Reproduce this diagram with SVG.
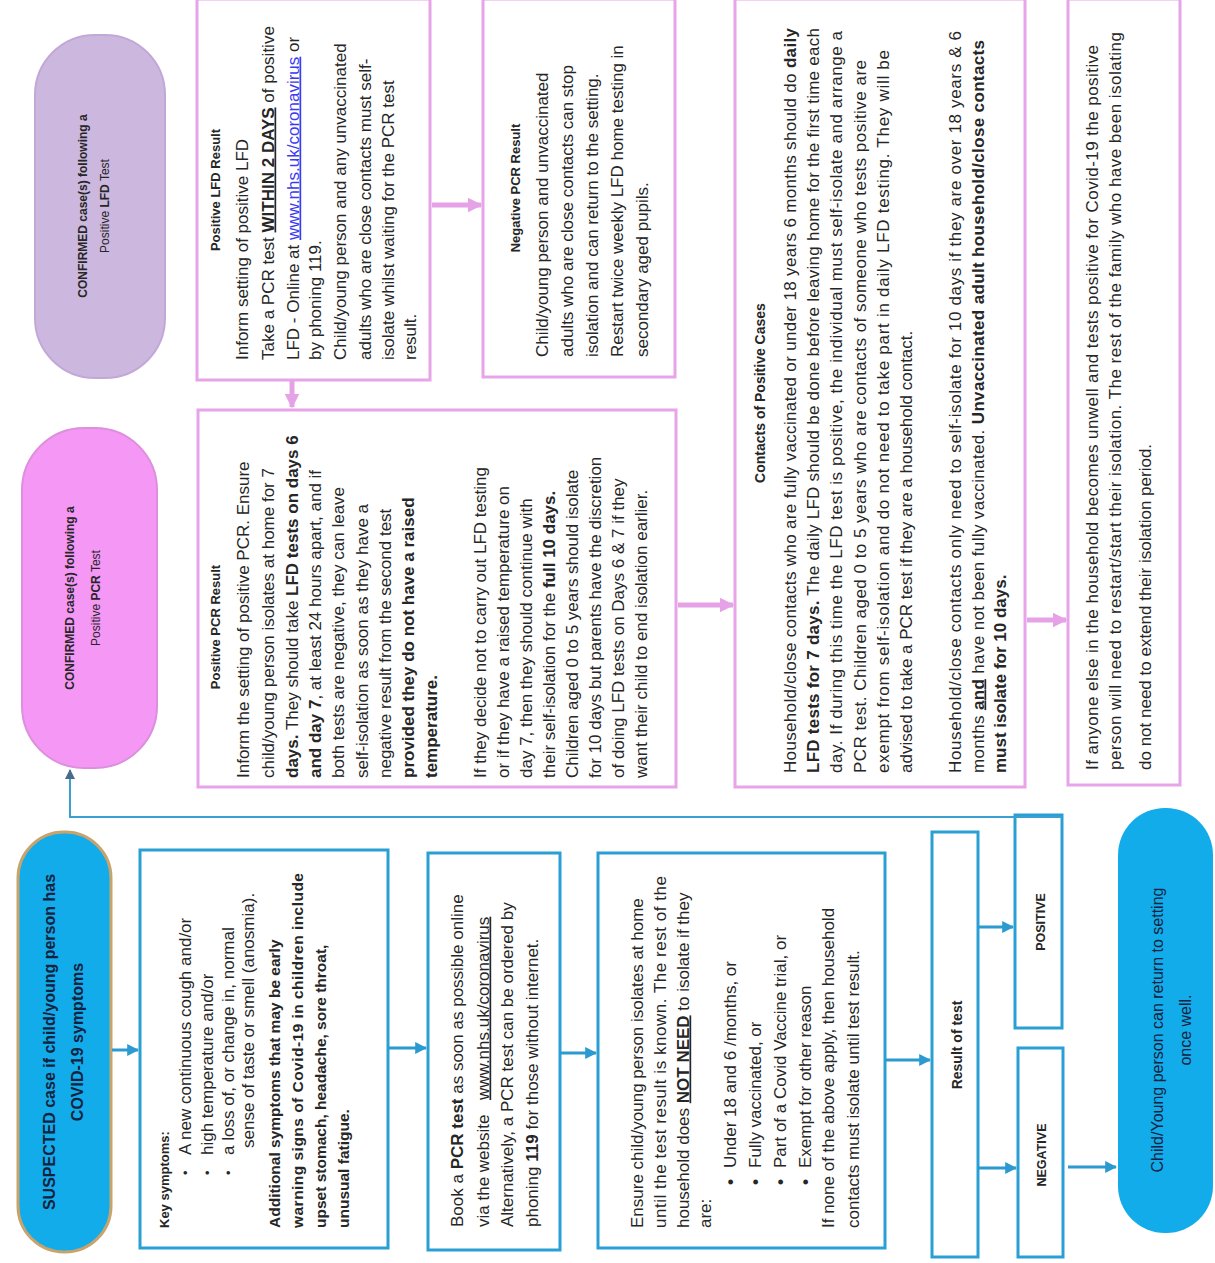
<svg xmlns="http://www.w3.org/2000/svg" width="1215" height="1263" viewBox="0 0 1215 1263">
<defs>
<marker id="ab" viewBox="0 0 10 10" refX="9" refY="5" markerWidth="4" markerHeight="4" orient="auto"><path d="M0,0 L10,5 L0,10 z" fill="#2b9ad0"/></marker>
<marker id="ag" viewBox="0 0 10 10" refX="9" refY="5" markerWidth="5" markerHeight="5" orient="auto"><path d="M0,0 L10,5 L0,10 z" fill="#4a6a8a"/></marker>
<marker id="ap" viewBox="0 0 10 10" refX="9" refY="5" markerWidth="3" markerHeight="3" orient="auto"><path d="M0,0 L10,5 L0,10 z" fill="#e6a2e6"/></marker>
</defs>
<style>
text{font-family:"Liberation Sans",Arial,sans-serif;fill:#262626}
.x{font-size:17px}
.bd{font-weight:bold}
.tt{font-size:13px;font-weight:bold}
.c{text-anchor:middle}
.u{text-decoration:underline}
.bbox{fill:#fff;stroke:#2a9fd6;stroke-width:3}
.pbox{fill:#fff;stroke:#e8a4e8;stroke-width:3}
.bc{stroke:#2b9ad0;stroke-width:3;fill:none}
.pc{stroke:#e6a2e6;stroke-width:5;fill:none}
.bul{font-size:13px}
.kb{font-size:15.5px;font-weight:bold}
</style>
<rect width="1215" height="1263" fill="#fff"/>
<g transform="translate(0,1263) rotate(-90)">

<g id="suspected">
<rect x="11" y="18" width="420" height="93" rx="46" fill="#12acea" stroke="#c8a46c" stroke-width="3"/>
<text class="c bd" style="font-size:16px;fill:#13233f" x="221" y="55">SUSPECTED case if child/young person has</text>
<text class="c bd" style="font-size:16px;fill:#13233f" x="221" y="83">COVID-19 symptoms</text>
</g>

<g id="key-symptoms">
<rect class="bbox" x="15" y="140" width="398" height="248"/>
<text class="tt" x="35" y="169">Key symptoms:</text>
<text class="bul" x="88" y="190">•</text>
<text class="bul" x="88" y="212">•</text>
<text class="bul" x="88" y="233">•</text>
<text class="x" x="108" y="190.5">A new continuous cough and/or</text>
<text class="x" x="108" y="212.5">high temperature and/or</text>
<text class="x" x="108" y="233.5">a loss of, or change in, normal</text>
<text class="x" x="115" y="254">sense of taste or smell (anosmia).</text>
<text class="kb" x="35" y="280">Additional symptoms that may be early</text>
<text class="kb" x="35" y="303" textLength="355">warning signs of Covid-19 in children include</text>
<text class="kb" x="35" y="326">upset stomach, headache, sore throat,</text>
<text class="kb" x="35" y="349">unusual fatigue.</text>
</g>

<g id="book-pcr">
<rect class="bbox" x="13" y="428" width="397" height="132"/>
<text class="x" x="36" y="462.5">Book a <tspan class="bd">PCR test</tspan> as soon as possible online</text>
<text class="x" x="36" y="488.5">via the website</text>
<text class="x u" x="163" y="488.5">www.nhs.uk/coronavirus</text>
<text class="x" x="36" y="512.5">Alternatively, a PCR test can be ordered by</text>
<text class="x" x="36" y="537.5">phoning <tspan class="bd">119</tspan> for those without internet.</text>
</g>

<g id="isolate">
<rect class="bbox" x="15" y="598" width="395" height="287"/>
<text class="x" x="35" y="642.5">Ensure child/young person isolates at home</text>
<text class="x" x="35" y="665.5" textLength="352">until the test result is known. The rest of the</text>
<text class="x" x="35" y="688.5">household does <tspan class="bd u">NOT NEED</tspan> to isolate if they</text>
<text class="x" x="35" y="710.5">are:</text>
<text class="x bd" x="78" y="735.5">•</text>
<text class="x bd" x="78" y="760.5">•</text>
<text class="x bd" x="78" y="785.5">•</text>
<text class="x bd" x="78" y="810.5">•</text>
<text class="x" x="95" y="735.5">Under 18 and 6 /months, or</text>
<text class="x" x="95" y="760.5">Fully vaccinated, or</text>
<text class="x" x="95" y="785.5">Part of a Covid Vaccine trial, or</text>
<text class="x" x="95" y="810.5">Exempt for other reason</text>
<text class="x" x="35" y="833.5">If none of the above apply, then household</text>
<text class="x" x="35" y="858.5">contacts must isolate until test result.</text>
</g>

<g id="result">
<rect class="bbox" x="6" y="932" width="425" height="46"/>
<text class="c bd" style="font-size:14px" x="218" y="962">Result of test</text>
</g>

<g id="positive">
<rect class="bbox" x="235" y="1015" width="213" height="47"/>
<text class="c bd" style="font-size:12.5px" x="341" y="1044.5">POSITIVE</text>
</g>

<g id="negative">
<rect class="bbox" x="6" y="1018" width="209" height="45"/>
<text class="c bd" style="font-size:12.5px" x="108" y="1046">NEGATIVE</text>
</g>

<g id="return">
<rect x="30" y="1118" width="425" height="95" rx="47" fill="#12acea"/>
<text class="c" style="font-size:16px;fill:#13233f" x="233" y="1162.5">Child/Young person can return to setting</text>
<text class="c" style="font-size:16px;fill:#13233f" x="233" y="1190.5">once well.</text>
</g>

<g id="confirmed-pcr">
<rect x="495" y="22" width="340" height="135" rx="62" fill="#f597f5" stroke="#dc8fdc" stroke-width="2"/>
<text class="c bd" style="font-size:12px" x="665" y="73.5">CONFIRMED case(s) following a</text>
<text class="c" style="font-size:12px" x="665" y="99.5">Positive <tspan class="bd">PCR</tspan> Test</text>
</g>

<g id="confirmed-lfd">
<rect x="885" y="35" width="343" height="130" rx="60" fill="#ccb8de" stroke="#c2a8d8" stroke-width="2"/>
<text class="c bd" style="font-size:12px" x="1057" y="86.5">CONFIRMED case(s) following a</text>
<text class="c" style="font-size:12px" x="1057" y="108.5">Positive <tspan class="bd">LFD</tspan> Test</text>
</g>

<g id="positive-lfd">
<rect class="pbox" x="883" y="197" width="381" height="233"/>
<text class="tt c" x="1073" y="219.5">Positive LFD Result</text>
<text class="x" x="903" y="247.5">Inform setting of positive LFD</text>
<text class="x" x="903" y="273.5">Take a PCR test <tspan class="bd u">WITHIN 2 DAYS</tspan> of positive</text>
<text class="x" x="903" y="298.5">LFD - Online at <tspan class="u" style="fill:#3a3af0">www.nhs.uk/coronavirus</tspan> or</text>
<text class="x" x="903" y="320.5">by phoning 119.</text>
<text class="x" x="903" y="345.5">Child/young person and any unvaccinated</text>
<text class="x" x="903" y="370.5">adults who are close contacts must self-</text>
<text class="x" x="903" y="393.5">isolate whilst waiting for the PCR test</text>
<text class="x" x="903" y="415.5">result.</text>
</g>

<g id="negative-pcr">
<rect class="pbox" x="886" y="483" width="378" height="192"/>
<text class="tt c" x="1075" y="519.5">Negative PCR Result</text>
<text class="x" x="906" y="547.5">Child/young person and unvaccinated</text>
<text class="x" x="906" y="572.5">adults who are close contacts can stop</text>
<text class="x" x="906" y="597.5">isolation and can return to the setting.</text>
<text class="x" x="906" y="622.5">Restart twice weekly LFD home testing in</text>
<text class="x" x="906" y="647.5">secondary aged pupils.</text>
</g>

<g id="positive-pcr">
<rect class="pbox" x="476" y="198" width="377" height="478"/>
<text class="tt c" x="636" y="219.5">Positive PCR Result</text>
<text class="x" x="485" y="248.5">Inform the setting of positive PCR. Ensure</text>
<text class="x" x="485" y="273.5">child/young person isolates at home for 7</text>
<text class="x" x="485" y="297.5"><tspan class="bd">days.</tspan> They should take <tspan class="bd">LFD tests on days 6</tspan></text>
<text class="x" x="485" y="320.5"><tspan class="bd">and day 7</tspan>, at least 24 hours apart, and if</text>
<text class="x" x="485" y="343.5">both tests are negative, they can leave</text>
<text class="x" x="485" y="367.5">self-isolation as soon as they have a</text>
<text class="x" x="485" y="390.5">negative result from the second test</text>
<text class="x bd" x="485" y="413.5">provided they do not have a raised</text>
<text class="x bd" x="485" y="436.5">temperature.</text>
<text class="x" x="485" y="485.5">If they decide not to carry out LFD testing</text>
<text class="x" x="485" y="508.5">or if they have a raised temperature on</text>
<text class="x" x="485" y="531.5">day 7, then they should continue with</text>
<text class="x" x="485" y="554.5">their self-isolation for the <tspan class="bd">full 10 days.</tspan></text>
<text class="x" x="485" y="577.5">Children aged 0 to 5 years should isolate</text>
<text class="x" x="485" y="600.5">for 10 days but parents have the discretion</text>
<text class="x" x="485" y="623.5">of doing LFD tests on Days 6 &amp; 7 if they</text>
<text class="x" x="485" y="646.5">want their child to end isolation earlier.</text>
</g>

<g id="contacts">
<rect class="pbox" x="476" y="735" width="788" height="290"/>
<text class="c bd" style="font-size:14px" x="870" y="765">Contacts of Positive Cases</text>
<text class="x" x="490" y="795.5" textLength="745">Household/close contacts who are fully vaccinated or under 18 years 6 months should do <tspan class="bd">daily</tspan></text>
<text class="x" x="490" y="818.5" textLength="745"><tspan class="bd">LFD tests for 7 days.</tspan> The daily LFD should be done before leaving home for the first time each</text>
<text class="x" x="490" y="841.5" textLength="742">day.  If during this time the LFD test is positive, the individual must self-isolate and arrange a</text>
<text class="x" x="490" y="865.5" textLength="713">PCR test. Children aged 0 to 5 years who are contacts of someone who tests positive are</text>
<text class="x" x="490" y="888.5" textLength="723">exempt from self-isolation and do not need to take part in daily LFD testing. They will be</text>
<text class="x" x="490" y="911.5">advised to take a PCR test if they are a household contact.</text>
<text class="x" x="490" y="960.5" textLength="742">Household/close contacts only need to self-isolate for 10 days if they are over 18 years &amp; 6</text>
<text class="x" x="490" y="983.5" textLength="733">months <tspan class="bd u">and</tspan> have not been fully vaccinated. <tspan class="bd">Unvaccinated adult household/close contacts</tspan></text>
<text class="x bd" x="490" y="1005.5">must isolate for 10 days.</text>
</g>

<g id="household">
<rect class="pbox" x="478" y="1068" width="786" height="112"/>
<text class="x" x="493" y="1097.5" textLength="725">If anyone else in the household becomes unwell and tests positive for Covid-19 the positive</text>
<text class="x" x="493" y="1120.5" textLength="738">person will need to restart/start their isolation. The rest of the family who have been isolating</text>
<text class="x" x="493" y="1150.5">do not need to extend their isolation period.</text>
</g>

<g id="connectors">
<line class="bc" x1="213" y1="112" x2="213" y2="138" marker-end="url(#ab)"/>
<line class="bc" x1="215" y1="388" x2="215" y2="426" marker-end="url(#ab)"/>
<line class="bc" x1="210" y1="560" x2="210" y2="596" marker-end="url(#ab)"/>
<line class="bc" x1="203" y1="885" x2="203" y2="930" marker-end="url(#ab)"/>
<line class="bc" x1="336" y1="978" x2="336" y2="1013" marker-end="url(#ab)"/>
<line class="bc" x1="95" y1="978" x2="95" y2="1016" marker-end="url(#ab)"/>
<line class="bc" x1="96" y1="1068" x2="96" y2="1116" marker-end="url(#ab)"/>
<polyline points="446,1062 446,70 493,70" fill="none" stroke="#3aa0d2" stroke-width="2" marker-end="url(#ag)"/>
<line class="pc" x1="883" y1="292" x2="856" y2="292" marker-end="url(#ap)"/>
<line class="pc" x1="1058" y1="432" x2="1058" y2="481" marker-end="url(#ap)"/>
<line class="pc" x1="658" y1="678" x2="658" y2="733" marker-end="url(#ap)"/>
<line class="pc" x1="643" y1="1027" x2="643" y2="1066" marker-end="url(#ap)"/>
</g>
</g>
</svg>
